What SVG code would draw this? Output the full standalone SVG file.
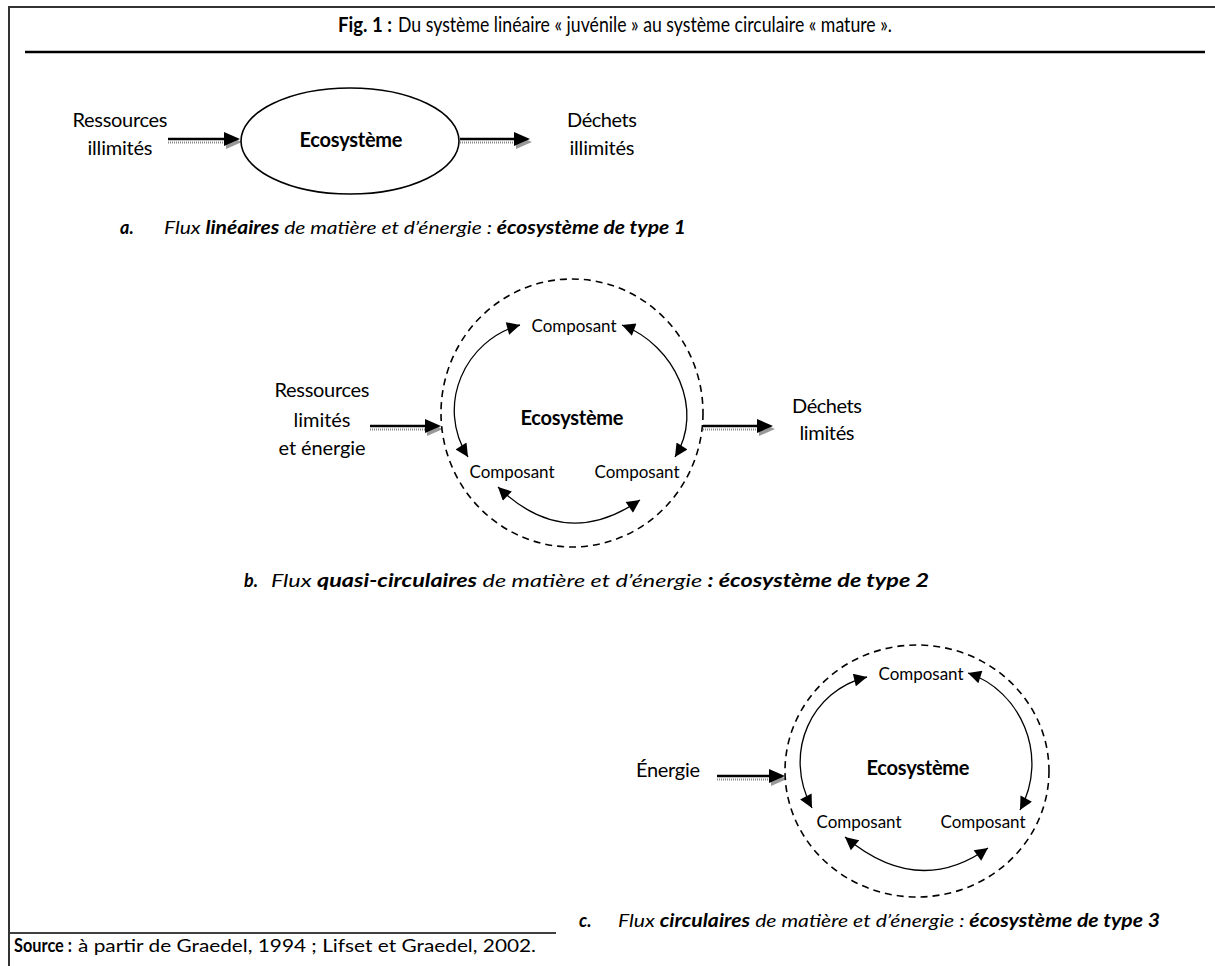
<svg xmlns="http://www.w3.org/2000/svg" width="1215" height="966" viewBox="0 0 1215 966">
<defs>
<style>
text{font-family:Lato,"Open Sans","Liberation Sans",sans-serif;fill:#000}
.lbl{font-size:20px;text-anchor:middle}
.cmp{font-size:17px;text-anchor:middle}
.eco{font-size:20px;font-weight:bold;text-anchor:middle}
.cap{font-size:18px;font-style:italic}
.ttl{font-size:21px}
.src{font-size:18px}
.b{font-weight:bold}
.ab{stroke:#000;stroke-width:2.4;fill:none}
.ag{stroke:#888;stroke-width:2;stroke-dasharray:1 1;fill:none}
.ah{fill:#000}
.ahs{fill:#999}
.arc{stroke:#000;stroke-width:1.3;fill:none;marker-start:url(#tri);marker-end:url(#tri)}
.dash{stroke:#000;stroke-width:1.6;fill:none;stroke-dasharray:7 5}
.frame{stroke:#333;stroke-width:2;fill:none}
</style>
<marker id="tri" viewBox="0 0 10 10" refX="10" refY="5" markerWidth="15" markerHeight="13" markerUnits="userSpaceOnUse" orient="auto-start-reverse">
<path d="M0,0 L10,5 L0,10 z" fill="#000"/>
</marker>
</defs>
<rect width="1215" height="966" fill="#fff"/>
<g id="frame">
<polyline class="frame" points="9,966 9,7 1215,7"/>
<line x1="25" y1="52" x2="1205" y2="52" stroke="#000" stroke-width="2.5"/>
<line x1="10" y1="933" x2="556" y2="933" stroke="#000" stroke-width="1.5"/>
</g>
<g id="title">
<text class="ttl b" x="338" y="32" textLength="54" lengthAdjust="spacingAndGlyphs">Fig. 1 :</text>
<text class="ttl" x="398" y="32" textLength="494" lengthAdjust="spacingAndGlyphs">Du système linéaire « juvénile » au système circulaire « mature ».</text>
</g>

<g id="connectors">
<!-- row a input -->
<line class="ab" x1="168" y1="139" x2="228" y2="139"/>
<line class="ag" x1="168" y1="142.5" x2="226" y2="142.5"/>
<polygon class="ahs" points="226,135 242,142 226,149"/>
<polygon class="ah" points="224,132 240,139 224,146"/>
<!-- row a output -->
<line class="ab" x1="460" y1="139" x2="518" y2="139"/>
<line class="ag" x1="460" y1="142.5" x2="516" y2="142.5"/>
<polygon class="ahs" points="516,135 532,142 516,149"/>
<polygon class="ah" points="514,132 530,139 514,146"/>
<!-- row b input -->
<line class="ab" x1="370" y1="426" x2="429" y2="426"/>
<line class="ag" x1="370" y1="429.5" x2="427" y2="429.5"/>
<polygon class="ahs" points="427,422 443,429 427,436"/>
<polygon class="ah" points="425,419 441,426 425,433"/>
<!-- row b output -->
<line class="ab" x1="703" y1="426" x2="761" y2="426"/>
<line class="ag" x1="703" y1="429.5" x2="759" y2="429.5"/>
<polygon class="ahs" points="759,422 775,429 759,436"/>
<polygon class="ah" points="757,419 773,426 757,433"/>
<!-- row c input -->
<line class="ab" x1="717" y1="776" x2="773" y2="776"/>
<line class="ag" x1="717" y1="779.5" x2="771" y2="779.5"/>
<polygon class="ahs" points="771,772 787,779 771,786"/>
<polygon class="ah" points="769,769 785,776 769,783"/>
<!-- row b arcs -->
<path class="arc" d="M520,325 C465,340 435,405 468,457"/>
<path class="arc" d="M622,325 C675,345 705,410 675,457"/>
<path class="arc" d="M498,487 Q565,552 640,500"/>
<!-- row c arcs -->
<path class="arc" d="M867,677 C812,690 782,752 812,808"/>
<path class="arc" d="M968,673 C1020,690 1050,755 1020,810"/>
<path class="arc" d="M845,837 Q918,898 988,848"/>
</g>

<g id="node-a-in"><text class="lbl" x="120" y="127" textLength="95">Ressources</text><text class="lbl" x="120" y="155" textLength="65">illimités</text></g>
<g id="node-a-eco"><ellipse cx="350" cy="141" rx="109" ry="53" fill="#fff" stroke="#000" stroke-width="1.6"/><text class="eco" x="351" y="147" textLength="103">Ecosystème</text></g>
<g id="node-a-out"><text class="lbl" x="602" y="127" textLength="70">Déchets</text><text class="lbl" x="602" y="155" textLength="65">illimités</text></g>
<g id="caption-a"><text class="cap" x="120" y="234"><tspan class="b">a.</tspan></text><text class="cap" x="164" y="234" textLength="522" lengthAdjust="spacingAndGlyphs">Flux <tspan class="b">linéaires</tspan> de matière et d’énergie : <tspan class="b">écosystème de type 1</tspan></text></g>

<g id="node-b-in"><text class="lbl" x="322" y="397" textLength="95">Ressources</text><text class="lbl" x="322" y="427" textLength="57">limités</text><text class="lbl" x="322" y="455" textLength="87">et énergie</text></g>
<g id="node-b-eco"><ellipse class="dash" cx="572" cy="413" rx="131" ry="134"/><text class="eco" x="572" y="425" textLength="103">Ecosystème</text></g>
<g id="node-b-c1"><text class="cmp" x="574" y="332" textLength="85">Composant</text></g>
<g id="node-b-c2"><text class="cmp" x="512" y="478" textLength="85">Composant</text></g>
<g id="node-b-c3"><text class="cmp" x="637" y="478" textLength="85">Composant</text></g>
<g id="node-b-out"><text class="lbl" x="827" y="413" textLength="70">Déchets</text><text class="lbl" x="827" y="440" textLength="55">limités</text></g>
<g id="caption-b"><text class="cap" x="244" y="587"><tspan class="b">b.</tspan></text><text class="cap" x="271" y="587" textLength="658" lengthAdjust="spacingAndGlyphs">Flux <tspan class="b">quasi-circulaires</tspan> de matière et d’énergie <tspan class="b">: écosystème de type 2</tspan></text></g>

<g id="node-c-in"><text class="lbl" x="668" y="777" textLength="64">Énergie</text></g>
<g id="node-c-eco"><ellipse class="dash" cx="917" cy="771" rx="132" ry="126"/><text class="eco" x="918" y="775" textLength="103">Ecosystème</text></g>
<g id="node-c-c1"><text class="cmp" x="921" y="680" textLength="85">Composant</text></g>
<g id="node-c-c2"><text class="cmp" x="859" y="828" textLength="85">Composant</text></g>
<g id="node-c-c3"><text class="cmp" x="983" y="828" textLength="85">Composant</text></g>
<g id="caption-c"><text class="cap" x="579" y="927"><tspan class="b">c.</tspan></text><text class="cap" x="618" y="927" textLength="542" lengthAdjust="spacingAndGlyphs">Flux <tspan class="b">circulaires</tspan> de matière et d’énergie : <tspan class="b">écosystème de type 3</tspan></text></g>

<g id="source">
<text class="src b" x="14" y="952" textLength="58" lengthAdjust="spacingAndGlyphs">Source :</text>
<text class="src" x="78" y="952" textLength="458" lengthAdjust="spacingAndGlyphs">à partir de Graedel, 1994 ; Lifset et Graedel, 2002.</text>
</g>
</svg>
